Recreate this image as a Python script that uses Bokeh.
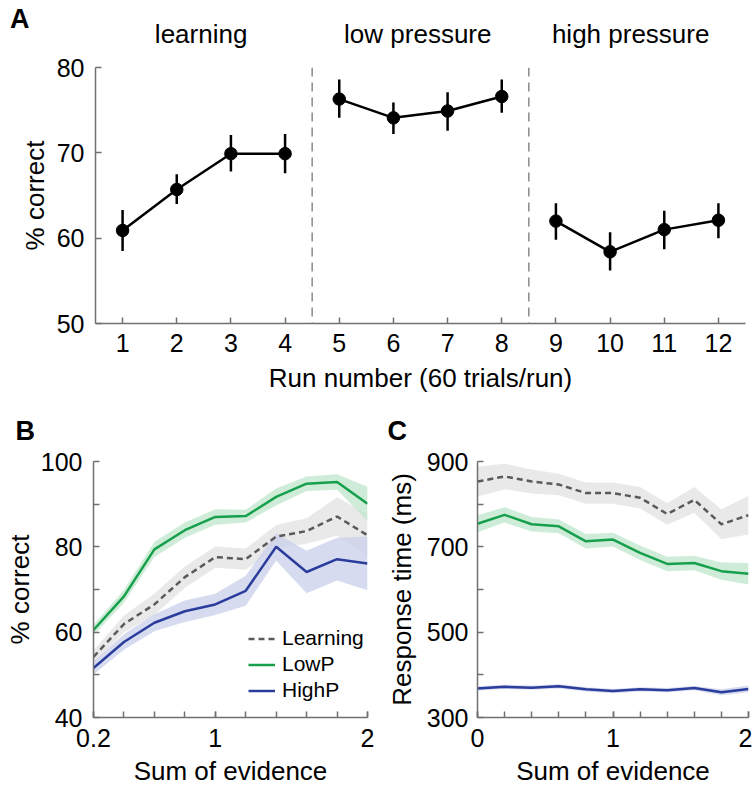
from bokeh.plotting import figure
from bokeh.layouts import column, row
from bokeh.models import Range1d, FixedTicker, Span, Legend, LegendItem
from bokeh.core.properties import value
from bokeh.embed import file_html
from bokeh.resources import INLINE

FONT = "Liberation Sans"

# ---------------- Panel A data ----------------
runs = [1, 2, 3, 4, 5, 6, 7, 8, 9, 10, 11, 12]
pct_correct = [60.9, 65.7, 69.9, 69.9, 76.3, 74.1, 74.9, 76.6, 62.0, 58.4, 61.0, 62.1]
err_low = [58.5, 64.0, 67.8, 67.6, 74.1, 72.2, 72.6, 74.7, 59.8, 56.2, 58.7, 60.0]
err_high = [63.3, 67.5, 72.1, 72.2, 78.6, 75.9, 77.1, 78.6, 64.1, 60.7, 63.2, 64.1]
phase_names = ["learning", "low pressure", "high pressure"]
phase_centers = [2.45, 6.45, 10.38]
phase_bounds = [4.5, 8.5]

# ---------------- Panel B data ----------------
evid_B = [0.2, 0.4, 0.6, 0.8, 1.0, 1.2, 1.4, 1.6, 1.8, 2.0]
learn_B = [54.2, 61.9, 66.5, 72.9, 77.6, 77.1, 82.4, 83.7, 87.1, 82.7]
learn_B_err = [1.5, 2.0, 2.5, 2.5, 2.5, 2.5, 2.7, 3.0, 4.5, 5.0]
lowp_B = [60.5, 68.4, 79.4, 83.9, 87.0, 87.2, 91.7, 94.8, 95.2, 90.1]
lowp_B_err = [1.2, 1.5, 1.8, 1.8, 1.8, 1.5, 2.0, 1.7, 1.8, 4.0]
highp_B = [51.6, 57.7, 62.2, 64.9, 66.5, 69.7, 80.0, 74.1, 77.1, 76.1]
highp_B_err = [1.5, 1.8, 2.0, 2.5, 2.5, 3.5, 3.2, 5.0, 5.0, 6.3]

# ---------------- Panel C data ----------------
evid_C = [0.0, 0.2, 0.4, 0.6, 0.8, 1.0, 1.2, 1.4, 1.6, 1.8, 2.0]
learn_C = [853, 865, 853, 846, 826, 826, 815, 777, 810, 753, 774]
learn_C_err = [35, 30, 28, 25, 25, 25, 25, 25, 30, 35, 45]
lowp_C = [754, 775, 753, 748, 713, 717, 686, 660, 662, 643, 637]
lowp_C_err = [20, 18, 17, 16, 17, 16, 17, 17, 17, 20, 25]
highp_C = [368, 372, 370, 373, 366, 362, 366, 364, 369, 359, 367]
highp_C_err = [5, 5, 5, 5, 5, 5, 5, 5, 5, 7, 8]

GREEN = "#17a04c"
BLUE = "#2a3c9c"
GRAY = "#5a5a5a"
GREEN_BAND = "#bfe6cc"
BLUE_BAND = "#c9cfe9"
GRAY_BAND = "#e1e1e1"
AXIS = "#707070"
TICK_SIZE = "25px"
LAB_SIZE = "26px"


def style(p, xlab, ylab, xstand=(10, 8), ystand=(10, 5)):
    p.outline_line_color = None
    p.grid.visible = False
    p.border_fill_color = "white"
    p.background_fill_color = "white"
    for ax in (p.xaxis[0], p.yaxis[0]):
        ax.axis_line_color = AXIS
        ax.axis_line_width = 1.5
        ax.major_tick_in = 6
        ax.major_tick_out = 0
        ax.minor_tick_in = 6
        ax.minor_tick_out = 0
        ax.major_tick_line_color = AXIS
        ax.minor_tick_line_color = AXIS
        ax.major_tick_line_width = 1.5
        ax.minor_tick_line_width = 1.5
        ax.major_label_text_font = FONT
        ax.major_label_text_font_size = TICK_SIZE
        ax.major_label_text_color = "black"
        ax.axis_label_text_font = FONT
        ax.axis_label_text_font_size = LAB_SIZE
        ax.axis_label_text_font_style = "normal"
        ax.axis_label_text_color = "black"
    p.xaxis[0].axis_label = xlab
    p.yaxis[0].axis_label = ylab
    p.xaxis[0].major_label_standoff = xstand[0]
    p.xaxis[0].axis_label_standoff = xstand[1]
    p.yaxis[0].major_label_standoff = ystand[0]
    p.yaxis[0].axis_label_standoff = ystand[1]


def panel_title(p, letter, offset, standoff):
    p.title.text = letter
    p.title.align = "left"
    p.title.vertical_align = "top"
    p.title.offset = offset
    p.title.standoff = standoff
    p.title.text_font = FONT
    p.title.text_font_size = "27px"
    p.title.text_font_style = "bold"
    p.title.text_color = "black"


# ---------------- Header above panel A (letter + phase names) ----------------
# Its frame is aligned with panel A's frame, so it shares the run-number x range.
pH = figure(width=752, height=50, output_backend="svg", toolbar_location=None,
            x_range=Range1d(0.5, 12.5), y_range=Range1d(50, 0),
            x_axis_location=None,
            min_border_left=95, min_border_right=7, min_border_top=0, min_border_bottom=0)
pH.outline_line_color = None
pH.grid.visible = False
pH.border_fill_color = "white"
hy = pH.yaxis[0]
hy.ticker = FixedTicker(ticks=[18])
hy.major_label_overrides = {18: "A"}
hy.major_label_text_font = FONT
hy.major_label_text_font_size = "27px"
hy.major_label_text_font_style = "bold"
hy.major_label_text_color = "black"
hy.major_label_standoff = 60
hy.axis_line_color = None
hy.major_tick_line_color = None
hy.minor_tick_line_color = None
pH.text(x=phase_centers, y=[33, 33, 33], text=phase_names, text_align="center",
        text_baseline="middle", text_font=value(FONT), text_font_size="26px", text_color="black")

# ---------------- Panel A ----------------
pA = figure(width=752, height=350, output_backend="svg", toolbar_location=None,
            x_range=Range1d(0.5, 12.5), y_range=Range1d(50, 80),
            min_border_left=95, min_border_right=7, min_border_top=17, min_border_bottom=77)
style(pA, "Run number (60 trials/run)", "% correct", xstand=(10, 8), ystand=(11, 4))
pA.xaxis[0].ticker = FixedTicker(ticks=runs)
pA.yaxis[0].ticker = FixedTicker(ticks=[50, 60, 70, 80])

for b in phase_bounds:
    pA.add_layout(Span(location=b, dimension="height", line_color="#8a8a8a",
                       line_width=1.5, line_dash="9 6"))

pA.segment(x0=runs, y0=err_low, x1=runs, y1=err_high, line_color="black", line_width=2.5)
for i in range(3):
    pA.line(runs[4 * i:4 * i + 4], pct_correct[4 * i:4 * i + 4], line_color="black", line_width=2.5)
pA.scatter(runs, pct_correct, size=12.5, color="black")

# ---------------- Panel B ----------------
pB = figure(width=376, height=389, output_backend="svg", toolbar_location=None,
            x_range=Range1d(0.2, 2.0), y_range=Range1d(40, 100),
            min_border_left=93, min_border_right=9, min_border_top=61, min_border_bottom=72)
style(pB, "Sum of evidence", "% correct", xstand=(11, 6), ystand=(11, 3))
pB.xaxis[0].ticker = FixedTicker(ticks=[0.2, 1.0, 2.0], minor_ticks=evid_B)
pB.yaxis[0].ticker = FixedTicker(ticks=[40, 60, 80, 100], minor_ticks=[50, 70, 90])
pB.xaxis[0].major_label_overrides = {0.2: "0.2", 1.0: "1", 2.0: "2"}
panel_title(pB, "B", -78, 28)


def band(p, x, y, e, color):
    p.varea(x=x, y1=[a - b for a, b in zip(y, e)], y2=[a + b for a, b in zip(y, e)],
            fill_color=color, fill_alpha=0.75)


band(pB, evid_B, learn_B, learn_B_err, GRAY_BAND)
band(pB, evid_B, highp_B, highp_B_err, BLUE_BAND)
band(pB, evid_B, lowp_B, lowp_B_err, GREEN_BAND)
rl = pB.line(evid_B, learn_B, line_color=GRAY, line_width=2.5, line_dash="6 4")
rg = pB.line(evid_B, lowp_B, line_color=GREEN, line_width=2.5)
rb = pB.line(evid_B, highp_B, line_color=BLUE, line_width=2.5)

leg = Legend(items=[LegendItem(label="Learning", renderers=[rl]),
                    LegendItem(label="LowP", renderers=[rg]),
                    LegendItem(label="HighP", renderers=[rb])],
             location=(155, 15), label_standoff=7, glyph_width=27, glyph_height=23,
             spacing=2, padding=0, margin=0, border_line_alpha=0, background_fill_alpha=0,
             label_text_font=FONT, label_text_font_size="21px", label_text_color="black")
pB.add_layout(leg)

# ---------------- Panel C ----------------
pC = figure(width=376, height=389, output_backend="svg", toolbar_location=None,
            x_range=Range1d(0.0, 2.0), y_range=Range1d(300, 900),
            min_border_left=101, min_border_right=4, min_border_top=61, min_border_bottom=72)
style(pC, "Sum of evidence", "Response time (ms)", xstand=(11, 6), ystand=(9, 7))
pC.xaxis[0].ticker = FixedTicker(ticks=[0.0, 1.0, 2.0], minor_ticks=evid_C)
pC.yaxis[0].ticker = FixedTicker(ticks=[300, 500, 700, 900], minor_ticks=[400, 600, 800])
pC.xaxis[0].major_label_overrides = {0.0: "0", 1.0: "1", 2.0: "2"}
panel_title(pC, "C", -90, 28)

band(pC, evid_C, learn_C, learn_C_err, GRAY_BAND)
band(pC, evid_C, lowp_C, lowp_C_err, GREEN_BAND)
band(pC, evid_C, highp_C, highp_C_err, BLUE_BAND)
pC.line(evid_C, learn_C, line_color=GRAY, line_width=2.5, line_dash="6 4")
pC.line(evid_C, lowp_C, line_color=GREEN, line_width=2.5)
pC.line(evid_C, highp_C, line_color=BLUE, line_width=2.5)

layout = column(pH, pA, row(pB, pC))
open("out.html", "w").write(file_html(layout, INLINE))
